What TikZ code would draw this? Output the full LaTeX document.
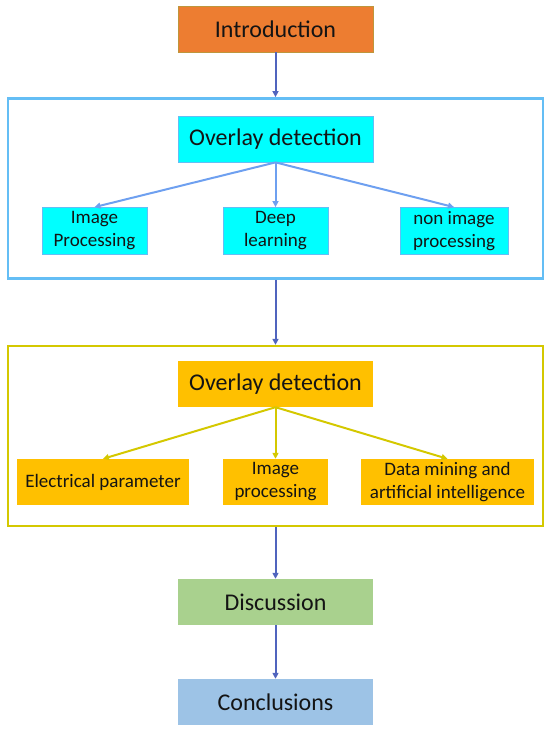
\documentclass[tikz,border=0pt]{standalone}
\usepackage{fontspec}
\setmainfont{Carlito}
\usetikzlibrary{arrows.meta}

\definecolor{introfill}{RGB}{237,125,49}
\definecolor{introline}{RGB}{190,150,60}
\definecolor{cyanfill}{RGB}{0,255,255}
\definecolor{cyanline}{RGB}{100,190,245}
\definecolor{cyanarrow}{RGB}{110,160,240}
\definecolor{goldfill}{RGB}{255,192,0}
\definecolor{goldline}{RGB}{212,200,0}
\definecolor{discfill}{RGB}{169,209,142}
\definecolor{conclfill}{RGB}{157,195,230}
\definecolor{mainarrow}{RGB}{80,100,190}
\definecolor{textdark}{RGB}{20,20,20}

\begin{document}
\begin{tikzpicture}[>={Triangle[length=6pt,width=6pt]}, x=1pt, y=-1pt]

\tikzset{
  big/.style={
    inner sep=0pt,
    align=center,
    minimum width=195pt,
    minimum height=46pt,
    text=textdark,
    font=\fontsize{24}{28}\selectfont
  },
  small/.style={
    inner sep=0pt,
    align=center,
    minimum width=105pt,
    minimum height=47pt,
    text=textdark,
    font=\fontsize{19}{23}\selectfont
  },
  frame/.style={
    draw,
    inner sep=0pt,
    minimum width=535pt,
    minimum height=180pt
  },
  cyanbox/.style={fill=cyanfill, draw=cyanline, line width=0.8pt},
  goldbox/.style={fill=goldfill}
}

\useasboundingbox (0,0) rectangle (550,731);

% the two group frames
\node[frame, draw=cyanline, line width=2.8pt] (cyanframe) at (275.5,188.5) {};
\node[frame, draw=goldline, line width=2.3pt] (goldframe) at (275.5,436) {};

\node[big, fill=introfill, draw=introline, line width=0.8pt] (intro) at (275.5,29) {Introduction};

\node[big, cyanbox] (ovl1) at (275.5,139) {Overlay detection};
\node[small, cyanbox] (imgproc) at (94.5,231) {Image\\Processing};
\node[small, cyanbox] (deep) at (275.5,231) {Deep\\learning};
\node[small, cyanbox, minimum width=108pt] (nonimg) at (454,231) {non image\\processing};

\node[big, goldbox] (ovl2) at (275.5,384) {Overlay detection};
\node[small, goldbox, minimum width=172pt, minimum height=46pt] (elec) at (103,482) {Electrical parameter};
\node[small, goldbox, minimum height=46pt] (imgproc2) at (275.5,482) {Image\\processing};
\node[small, goldbox, minimum width=173pt, minimum height=46pt] (datamine) at (447.5,482) {Data mining and\\artificial intelligence};

\node[big, fill=discfill] (disc) at (275.5,602) {Discussion};
\node[big, fill=conclfill] (concl) at (275.5,702) {Conclusions};

\draw[->, draw=mainarrow, fill=mainarrow, line width=2pt] (intro) -- (cyanframe.north);
\draw[->, draw=mainarrow, fill=mainarrow, line width=2pt] (cyanframe.south) -- (goldframe.north);
\draw[->, draw=mainarrow, fill=mainarrow, line width=2pt] (goldframe.south) -- (disc);
\draw[->, draw=mainarrow, fill=mainarrow, line width=2pt] (disc) -- (concl);

\foreach \b in {imgproc,deep,nonimg} {
  \draw[->, draw=cyanarrow, fill=cyanarrow, line width=2pt] (ovl1.south) -- (\b.north);
}
\foreach \b in {elec,imgproc2,datamine} {
  \draw[->, draw=goldline, fill=goldline, line width=2pt] (ovl2.south) -- (\b.north);
}

\end{tikzpicture}
\end{document}
